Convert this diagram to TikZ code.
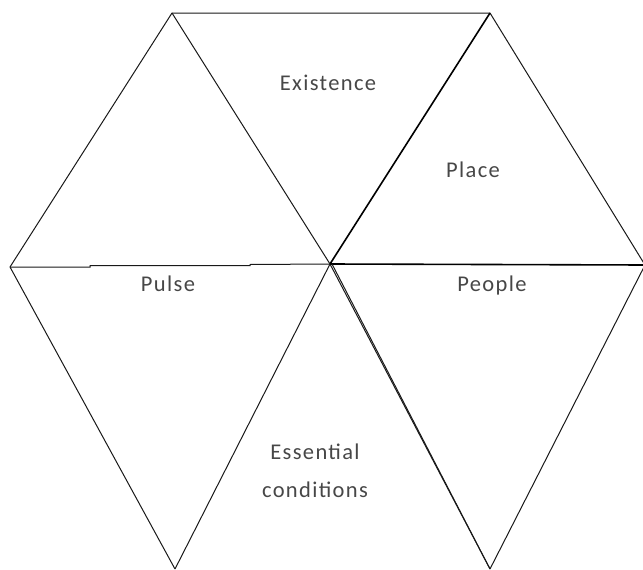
\documentclass[tikz,border=0pt]{standalone}
\usepackage{fontspec}
\setmainfont{Carlito}[LetterSpace=6]
\begin{document}
\begin{tikzpicture}[x=1pt,y=-1pt,
  edge/.style={draw=black!90,line width=1pt,line join=miter},
  thick edge/.style={draw=black,line width=1.6pt},
  lab/.style={font=\fontsize{22.5}{38}\selectfont,text=black!72,align=center,inner sep=0pt}]
\useasboundingbox (0,0) rectangle (643,570);
\coordinate (TL) at (172,13);
\coordinate (TR) at (490,13);
\coordinate (R) at (645,265);
\coordinate (BR) at (490,569);
\coordinate (BL) at (175,569);
\coordinate (L) at (10,267);
\coordinate (C) at (330,264);
\coordinate (C2) at (332,264);
% outer hexagon
\draw[edge] (L) -- (TL) -- (TR) -- (R) -- (BR);
\draw[edge] (BL) -- (L);
\draw[edge] (TL) -- (C) -- (BL);
\draw[edge] (C) -- (BR);
\draw[thick edge] (TR) -- (C);
\draw[thick edge] (C) -- (R);
\draw[edge] (C2) -- (BR);
% stepped left horizontal
\draw[edge] (L) -- (90,267) -- (90,265.5) -- (250,265.5) -- (250,264.5) -- (C);
% labels
\node[lab] (exist) at (328,83) {Existence};
\node[lab] (place) at (473,170) {Place};
\node[lab] (pulse) at (168,284) {Pulse};
\node[lab] (people) at (492,285) {People};
\node[lab] (ess) at (315,471) {Essential\\conditions};
\end{tikzpicture}
\end{document}
